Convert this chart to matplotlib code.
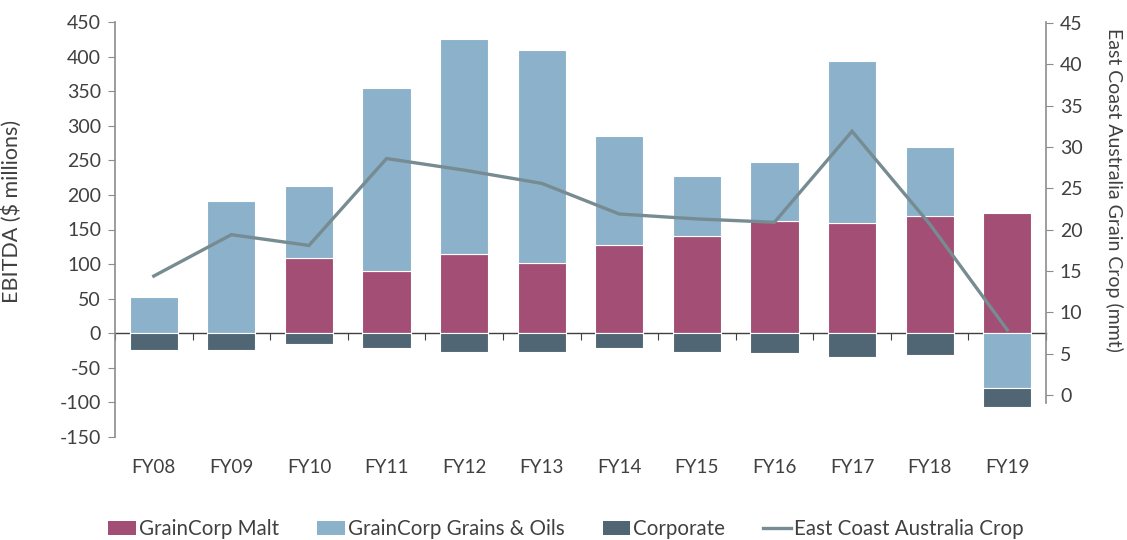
import numpy as np
import matplotlib
matplotlib.use("Agg")
import matplotlib.pyplot as plt
from matplotlib.lines import Line2D
from matplotlib.patches import Patch

plt.rcParams['font.family'] = ['Lato', 'DejaVu Sans']

categories = ["FY08", "FY09", "FY10", "FY11", "FY12", "FY13", "FY14", "FY15", "FY16", "FY17", "FY18", "FY19"]
malt = [0, 0, 109, 90, 115, 102, 127, 141, 162, 160, 169, 174]
grains = [52, 191, 104, 264, 311, 308, 158, 86, 86, 234, 101, -79]
corporate = [-24, -24, -16, -21, -27, -27, -22, -27, -29, -34, -32, -28]
crop = [14.4, 19.4, 18.1, 28.6, 27.2, 25.6, 21.9, 21.3, 20.9, 31.9, 20.7, 7.9]

left_ticks = list(range(-150, 451, 50))
right_ticks = list(range(0, 46, 5))

c_malt = "#a34e74"
c_grains = "#8bb1cb"
c_corp = "#506674"
c_line = "#778c92"
c_text = "#404040"
c_spine = "#8c8c8c"

fig = plt.figure(figsize=(11.27, 5.4), dpi=100)
ax = fig.add_axes([115/1127, 1-437/540, (1046-115)/1127, (437-22)/540])
x = np.arange(len(categories))
w = 0.62

pos_base = np.zeros(len(x))
neg_base = np.zeros(len(x))
for vals, col in [(malt, c_malt), (grains, c_grains), (corporate, c_corp)]:
    v = np.array(vals, dtype=float)
    bottoms = np.where(v >= 0, pos_base, neg_base)
    ax.bar(x, v, w, bottom=bottoms, color=col, edgecolor="white", linewidth=0.8, zorder=2)
    pos_base = pos_base + np.where(v >= 0, v, 0)
    neg_base = neg_base + np.where(v < 0, v, 0)

ax.set_xlim(-0.5, len(x) - 0.5)
ax.set_ylim(-150, 450)
ax.set_yticks(left_ticks)
ax.set_yticklabels([str(t) for t in left_ticks], fontsize=14, color=c_text)
ax.tick_params(axis='y', length=5, color=c_spine, direction='out', pad=5)
ax.set_xticks(x)
ax.set_xticklabels(categories, fontsize=13.5, color=c_text)
ax.tick_params(axis='x', length=0, pad=16)
for s in ['top', 'right', 'bottom']:
    ax.spines[s].set_visible(False)
ax.spines['left'].set_color(c_spine)
ax.spines['left'].set_linewidth(1.2)
ax.set_ylabel("EBITDA ($ millions)", fontsize=15.5, color=c_text)
ax.yaxis.set_label_coords((22 - 115) / 931, (437 - 211) / 415)

# zero axis line with category-boundary ticks
zero_frac = (0 - (-150)) / (450 - (-150))
sec = ax.secondary_xaxis(zero_frac)
sec.set_xticks(np.arange(len(x) + 1) - 0.5)
sec.set_xticklabels([])
sec.tick_params(axis='x', length=5, color="#404040", direction='out')
sec.spines['bottom'].set_color("#404040")
sec.spines['bottom'].set_linewidth(1.0)

ax2 = ax.twinx()
ax2.plot(x, crop, color=c_line, linewidth=2.4, zorder=3, solid_joinstyle='miter')
ax2.set_ylim(-5.05, 45.1)
ax2.set_yticks(right_ticks)
ax2.set_yticklabels([str(t) for t in right_ticks], fontsize=14, color=c_text)
ax2.tick_params(axis='y', length=5, color=c_spine, direction='out', pad=5)
for s in ['top', 'left', 'bottom']:
    ax2.spines[s].set_visible(False)
ax2.spines['right'].set_color(c_spine)
ax2.spines['right'].set_linewidth(1.2)
ax2.spines['right'].set_bounds(-1, 45.1)
ax2.set_ylabel("East Coast Australia Grain Crop (mmt)", fontsize=14, color=c_text,
               rotation=-90, va='center')
ax2.yaxis.set_label_coords((1114 - 115) / 931, (437 - 190) / 415)

handles = [Patch(facecolor=c_malt, edgecolor='none'),
           Patch(facecolor=c_grains, edgecolor='none'),
           Patch(facecolor=c_corp, edgecolor='none'),
           Line2D([0], [0], color=c_line, linewidth=2.4)]
labels = ["GrainCorp Malt", "GrainCorp Grains & Oils", "Corporate", "East Coast Australia Crop"]
fig.legend(handles, labels, loc='center', bbox_to_anchor=(566/1127, 1-529/540), ncol=4,
           frameon=False, fontsize=14.8, handlelength=1.35, handleheight=0.7,
           handletextpad=0.15, columnspacing=1.85, labelcolor=c_text,
           borderaxespad=0, borderpad=0)

fig.savefig("out.png", dpi=100)
